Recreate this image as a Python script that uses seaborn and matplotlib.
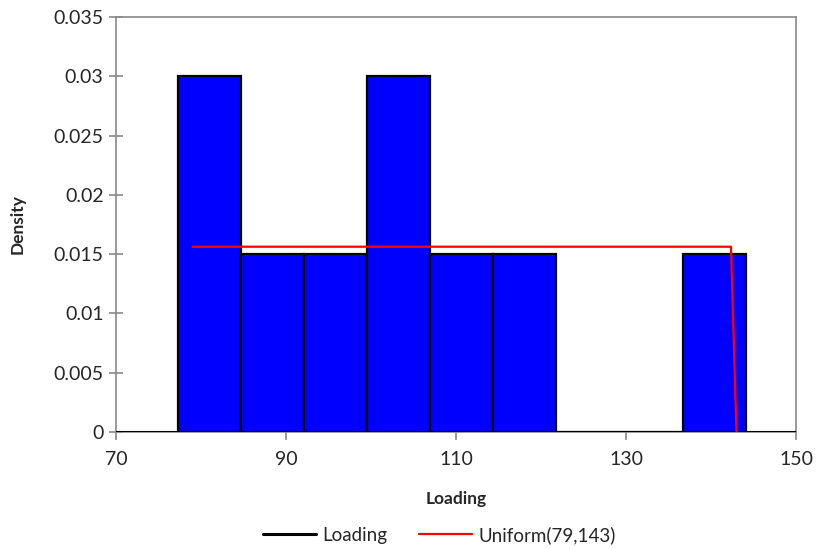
import matplotlib
matplotlib.use("Agg")
import matplotlib.pyplot as plt
import seaborn as sns
import numpy as np

# ---- data ----
bin_edges = [77.3, 84.72, 92.14, 99.56, 106.98, 114.4, 121.82, 129.24, 136.66, 144.08]
densities = [0.030, 0.015, 0.015, 0.030, 0.015, 0.015, 0.0, 0.0, 0.015]
loading_line_x = [70, 150]
loading_line_y = [0, 0]
uniform_x = [79, 142.35, 143]
uniform_y = [0.015625, 0.015625, 0.0]
x_ticks = [70, 90, 110, 130, 150]
y_ticks = [0, 0.005, 0.01, 0.015, 0.02, 0.025, 0.03, 0.035]
y_tick_labels = ["0", "0.005", "0.01", "0.015", "0.02", "0.025", "0.03", "0.035"]

sns.set_style("white")
plt.rcParams["font.family"] = ["Lato", "DejaVu Sans"]

fig = plt.figure(figsize=(8.17, 5.49), dpi=100)
ax = fig.add_axes([116 / 817, 1 - 432 / 549, 680 / 817, 415 / 549])

centers = [(bin_edges[i] + bin_edges[i + 1]) / 2 for i in range(len(densities))]
sns.histplot(x=centers, weights=densities, bins=bin_edges, stat="count",
             color="#0000FF", alpha=1, edgecolor="black", linewidth=1.6, ax=ax,
             zorder=2)

sns.lineplot(x=loading_line_x, y=loading_line_y, color="black", linewidth=2.2,
             ax=ax, label="Loading", zorder=3)
sns.lineplot(x=uniform_x, y=uniform_y, color="#FF0000", linewidth=1.6,
             ax=ax, label="Uniform(79,143)", sort=False, estimator=None, zorder=4)

ax.set_xlim(70, 150)
ax.set_ylim(0, 0.035)
ax.set_xticks(x_ticks)
ax.set_xticklabels([str(t) for t in x_ticks], fontsize=14)
ax.set_yticks(y_ticks)
ax.set_yticklabels(y_tick_labels, fontsize=14)

for s in ax.spines.values():
    s.set_color("#898989")
    s.set_linewidth(1.2)

ax.tick_params(axis="x", direction="out", length=6, color="#898989", width=1.2, pad=8)
ax.tick_params(axis="y", direction="inout", length=10, color="#898989", width=1.2, pad=4)
ax.tick_params(bottom=True, left=True)

ax.set_xlabel("Loading", fontsize=12.5, fontweight="bold", labelpad=16)
ax.set_ylabel("Density", fontsize=12.5, fontweight="bold", labelpad=20)

leg = ax.legend(loc="center", bbox_to_anchor=(0.476, 1 - (535 - 17) / 415), ncol=2,
                frameon=False, fontsize=13.5, handlelength=2.8, columnspacing=1.7,
                handletextpad=0.35)

fig.savefig("out.png", dpi=100)
